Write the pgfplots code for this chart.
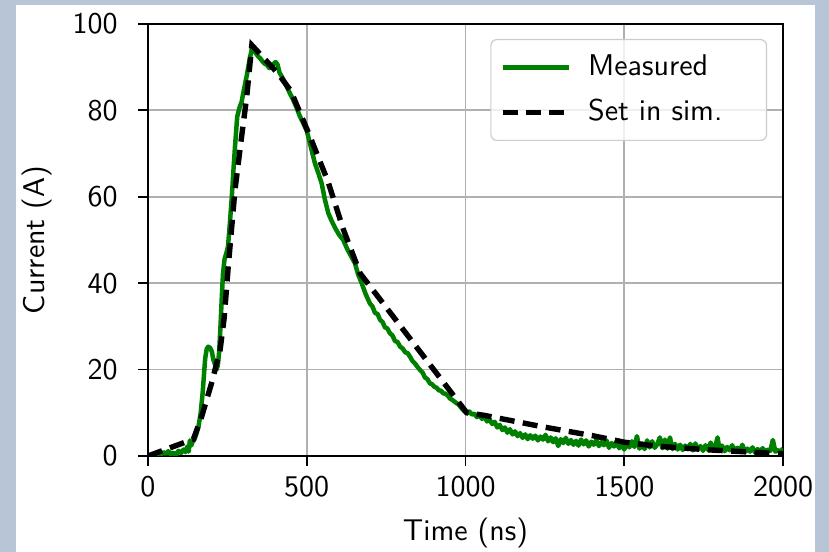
\documentclass[border=0pt]{standalone}
\usepackage{pgfplots}
\pgfplotsset{compat=1.18}
\renewcommand{\familydefault}{\sfdefault}
\definecolor{bgblue}{RGB}{184,197,214}
\definecolor{mgreen}{RGB}{0,128,0}
\begin{document}
\fontsize{10}{12}\selectfont
\begin{tikzpicture}
\useasboundingbox (0,0) rectangle (276.33pt,184pt);
\fill[bgblue] (0,0) rectangle (276.33pt,184pt);
\fill[white] (5.33pt,0) rectangle (271.67pt,182.33pt);
\begin{axis}[
  at={(49.33pt,32pt)}, anchor=south west,
  scale only axis, width=211.67pt, height=144pt,
  xmin=0, xmax=2000, ymin=0, ymax=100,
  xtick={0,500,1000,1500,2000}, ytick={0,20,40,60,80,100},
  scaled ticks=false,
  /pgf/number format/1000 sep={},
  /pgf/number format/assume math mode=true,
  tick align=outside, major tick length=3.3pt,
  tick style={black, line width=0.6pt},
  xtick pos=bottom, ytick pos=left,
  axis line style={black, line width=0.7pt},
  grid=major, major grid style={color=black!31, line width=0.6pt},
  xlabel={Time (ns)}, ylabel={Current (A)},
  ticklabel style={font=\fontsize{10}{12}\selectfont},
  yticklabel style={xshift=-3.3pt},
  label style={font=\fontsize{10}{12}\selectfont},
  legend style={at={(1,1)}, anchor=north east, xshift=-5.3pt, yshift=-5pt,
    draw=black!20, rounded corners=2pt, fill=white, fill opacity=0.8, text opacity=1,
    font=\fontsize{10}{12}\selectfont, inner xsep=3pt, inner ysep=3pt,
    row sep=2.5pt, cells={anchor=west}},
  legend image code/.code={\path[draw=none, fill=none] (0pt,0pt) rectangle (26.5pt,0pt); \draw[sharp corners, #1] (0pt,0pt) -- (22pt,0pt);},
]
\addplot[mgreen, line width=1.5pt, line join=round] table {
0 0.2
8 0.0
16 0.4
24 0.1
32 0.6
40 0.3
48 0.9
56 0.5
64 1.1
72 0.4
80 0.8
88 0.2
96 1.2
104 0.7
112 1.5
118 0.9
124 2.2
128 1.0
132 3.6
136 2.4
140 3.2
146 3.8
152 5.0
159 6.8
166 10.0
172 14.5
176 18.5
180 22.5
185 24.8
190 25.3
196 25.0
201 24.2
206 22.3
211 21.2
216 20.0
220 21.0
224 24.0
228 29.5
232 36.0
236 42.0
241 45.5
247 47.0
252 48.5
258 54.0
264 60.0
269 66.0
274 71.6
281 78.5
288 80.6
295 82.0
300 84.0
306 86.2
311 88.0
316 90.1
322 92.5
328 94.5
334 94.0
340 93.2
347 92.5
354 92.0
361 91.3
368 90.8
375 90.5
382 89.8
389 90.3
396 90.8
402 91.2
408 90.6
414 88.8
420 88.0
426 87.2
432 86.3
440 85.0
448 83.8
457 82.5
468 80.6
478 78.7
488 77.2
500 75.3
510 72.4
518 70.0
526 67.7
536 65.6
547 63.1
557 59.4
568 56.2
578 54.5
590 52.7
602 51.2
615 50.0
627 48.0
640 46.2
652 44.6
662 42.0
673 40.0
686 37.4
699 35.3
707 34.6
715 33.1
723 32.9
731 31.5
739 31.0
746 29.8
754 29.5
762 28.4
770 27.9
778 26.6
786 26.4
794 25.3
802 24.9
810 24.0
818 23.8
825 23.0
833 22.0
841 21.4
849 20.6
857 19.9
865 19.3
872 18.2
880 17.8
888 16.8
895 16.6
902 16.0
909 15.8
916 15.2
923 15.1
930 14.5
937 14.4
944 14.0
951 13.3
958 13.0
965 12.6
972 12.2
979 11.9
986 11.2
996 10.4
1004 9.9
1012 10.3
1020 9.6
1028 9.8
1036 9.0
1044 9.4
1052 8.6
1060 9.1
1068 8.0
1076 8.5
1084 7.4
1092 7.9
1100 6.6
1108 7.2
1116 6.0
1124 6.6
1132 5.4
1140 6.2
1148 5.0
1156 5.7
1164 4.6
1172 5.3
1180 4.2
1188 5.0
1196 3.9
1204 4.8
1212 4.0
1220 4.7
1228 3.6
1236 4.5
1244 3.8
1252 4.9
1260 3.4
1268 4.3
1276 3.2
1284 4.1
1292 2.3
1300 3.9
1308 3.0
1316 4.2
1324 2.8
1332 3.7
1340 2.6
1348 3.5
1356 2.4
1364 3.8
1372 2.7
1380 3.6
1388 2.2
1396 3.3
1404 2.6
1412 3.7
1420 2.3
1428 3.2
1436 2.5
1444 3.6
1452 1.9
1460 3.0
1468 2.2
1476 3.3
1484 1.8
1492 2.8
1500 1.5
1508 3.1
1516 2.0
1524 3.4
1532 2.1
1540 4.6
1548 1.7
1556 2.9
1564 1.6
1572 3.6
1580 2.0
1588 3.4
1596 1.9
1604 2.7
1612 4.3
1620 1.8
1628 3.8
1636 1.7
1644 4.3
1652 1.6
1660 2.8
1668 1.5
1676 2.6
1684 1.4
1692 2.4
1700 1.6
1708 2.8
1716 1.3
1724 2.9
1732 1.5
1740 2.3
1748 1.2
1756 2.5
1764 1.4
1772 3.1
1780 1.6
1788 2.6
1794 4.3
1800 1.4
1808 2.4
1816 1.1
1824 2.1
1832 1.3
1840 2.5
1848 1.0
1856 1.9
1864 1.2
1872 2.6
1880 0.9
1888 1.7
1896 1.0
1904 2.0
1912 0.8
1920 1.6
1928 1.1
1936 1.8
1944 0.9
1952 1.5
1960 1.2
1968 3.7
1976 1.0
1984 1.4
1992 0.8
2000 1.8
};
\addlegendentry{Measured}
\addplot[black, line width=1.8pt, dash pattern=on 5pt off 2.8pt] table {
0 0
143 3.9
169 9.1
200 16.8
227 24.5
240 32
253 44
274 61.6
295 74
311 83.2
327 95.1
410 88.5
450 84.5
510 74
567 63.5
615 52.5
668 42.3
1004 10
1060 9.4
1240 6.8
1400 4.7
1500 3.2
1600 2.3
1770 1.4
2000 0.5
};
\addlegendentry{Set in sim.\hspace*{9.7pt}}
\end{axis}
\end{tikzpicture}
\end{document}
